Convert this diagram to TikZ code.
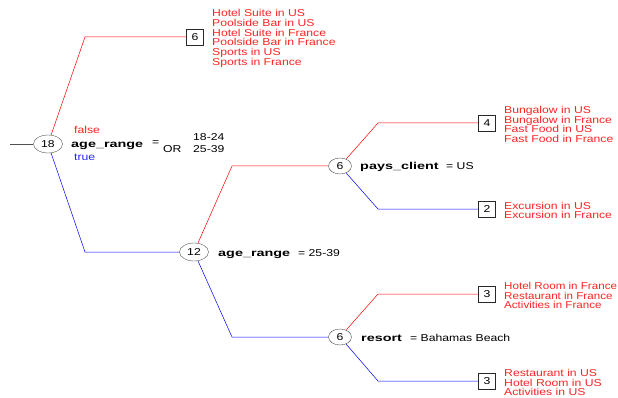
\documentclass[tikz,border=0pt]{standalone}
\usepackage{fontspec}
\setmainfont{Liberation Sans}
\newfontfamily\treefont[FakeStretch=1.22]{Liberation Sans}
\newfontfamily\treenarrow[FakeStretch=1.16]{Liberation Sans}
\newfontfamily\treebold[FakeStretch=1.44]{Liberation Sans}
\usetikzlibrary{shapes.geometric,positioning}
\definecolor{listred}{RGB}{255,35,35}
\definecolor{truecol}{RGB}{40,40,255}

\begin{document}
\begin{tikzpicture}[x=1pt,y=-1pt,
  split/.style={draw={rgb,255:red,80;green,80;blue,80},ellipse,minimum width=29pt,minimum height=18pt,inner sep=0pt,font=\treefont\fontsize{10}{10}\selectfont},
  leaf/.style={draw={rgb,255:red,40;green,40;blue,40},minimum width=17pt,minimum height=16pt,inner sep=0pt,font=\treefont\fontsize{10}{10}\selectfont},
  items/.style={anchor=west,align=left,inner sep=0pt,text=listred,font=\treefont\fontsize{10}{9.75}\selectfont},
  attr/.style={anchor=base west,inner sep=0pt,font=\treebold\bfseries\fontsize{10}{10}\selectfont},
  val/.style={anchor=base west,inner sep=0pt,font=\treefont\fontsize{10}{10}\selectfont},
  no/.style={draw=red,line width=0.5pt},
  yes/.style={draw=blue,line width=0.5pt}]
\useasboundingbox (0,0) rectangle (618,398);

%Split nodes
\node[split] (n18) at (48,144) {18};
\node[split] (n12) at (194,252) {12};
\node[split,minimum width=23pt,minimum height=16pt] (n6p) at (340,166) {6};
\node[split,minimum width=23pt,minimum height=16pt] (n6r) at (340,337) {6};

%Leaves
\node[leaf] (l6) at (195,37) {6};
\node[leaf] (l4) at (487,123) {4};
\node[leaf] (l2) at (487,209) {2};
\node[leaf] (l3f) at (487,294) {3};
\node[leaf] (l3u) at (487,381) {3};

%Edges
\coordinate (in) at (10,144);
\draw[draw={rgb,255:red,80;green,80;blue,80},line width=0.5pt] (in) -- (n18);
\draw[no] (n18) -- (85,37) -- (l6);
\draw[yes] (n18) -- (85,252) -- (n12);
\draw[no] (n12) -- (232,166) -- (n6p);
\draw[yes] (n12) -- (232,337) -- (n6r);
\draw[no] (n6p) -- (378,123) -- (l4);
\draw[yes] (n6p) -- (378,209) -- (l2);
\draw[no] (n6r) -- (378,294) -- (l3f);
\draw[yes] (n6r) -- (378,381) -- (l3u);

%Split labels
\node[val,text=listred] (f18) at (74,134) {false};
\node[val,text=truecol] (t18) at (74,161) {true};
\node[attr] (a18) at (71,148) {age\_range};
\node[val] (e18) at (152,146) {=};
\node[val] (or18) at (163,153) {OR};
\node[val] (v18a) at (193,141) {18-24};
\node[val] (v18b) at (193,153) {25-39};
\node[attr] (a12) at (218,256) {age\_range};
\node[val] (v12) at (298,256) {= 25-39};
\node[attr] (a6p) at (360,170) {pays\_client};
\node[val] (v6p) at (446,170) {= US};
\node[attr] (a6r) at (361,341) {resort};
\node[val] (v6r) at (410,341) {= Bahamas Beach};

%Leaf contents
\node[items] (c6) at (212,38.5) {Hotel Suite in US\\Poolside Bar in US\\Hotel Suite in France\\Poolside Bar in France\\Sports in US\\Sports in France};
\node[items] (c4) at (504,124.5) {Bungalow in US\\Bungalow in France\\Fast Food in US\\Fast Food in France};
\node[items] (c2) at (504,210.5) {Excursion in US\\Excursion in France};
\node[items,font=\treenarrow\fontsize{10}{9.75}\selectfont] (c3f) at (504,295.5) {Hotel Room in France\\Restaurant in France\\Activities in France};
\node[items] (c3u) at (504,382.5) {Restaurant in US\\Hotel Room in US\\Activities in US};

\end{tikzpicture}
\end{document}
